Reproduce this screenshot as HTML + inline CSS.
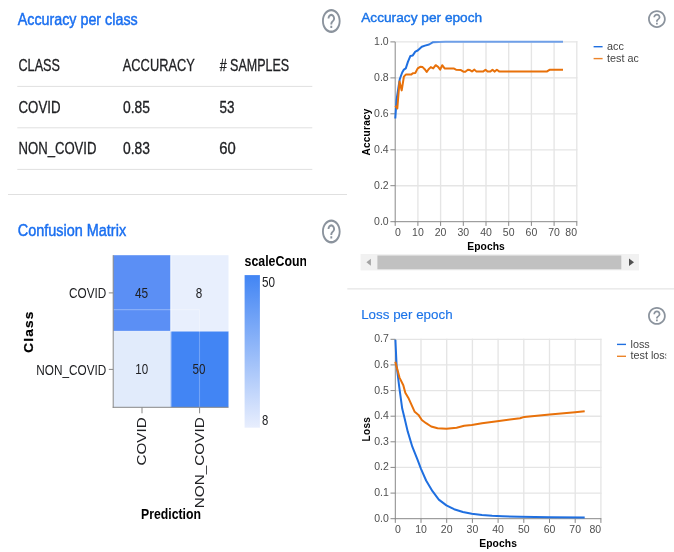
<!DOCTYPE html>
<html lang="en">
<head>
<meta charset="utf-8">
<title>Model evaluation</title>
<style>
html,body{margin:0;padding:0;background:#fff}
body{width:674px;height:552px;overflow:hidden;position:relative;font-family:"Liberation Sans", sans-serif}
svg{position:absolute;left:0;top:0;display:block;will-change:transform}
text{font-family:"Liberation Sans", sans-serif}
</style>
</head>
<body>
<svg width="674" height="552" viewBox="0 0 674 552">
<g id="accuracy-per-class">
<text x="17.7" y="25.3" font-size="16" fill="#1a6ff0" textLength="120" lengthAdjust="spacingAndGlyphs" stroke="#1a6ff0" stroke-width="0.45">Accuracy per class</text>
<path d="M11 18h2v-2h-2v2zm1-16C6.48 2 2 6.48 2 12s4.48 10 10 10 10-4.48 10-10S17.52 2 12 2zm0 18c-4.41 0-8-3.59-8-8s3.59-8 8-8 8 3.59 8 8-3.59 8-8 8zm0-14c-2.21 0-4 1.79-4 4h2c0-1.1.9-2 2-2s2 .9 2 2c0 2-3 1.75-3 5h2c0-2.25 3-2.5 3-5 0-2.21-1.79-4-4-4z" fill="#8b939d" transform="translate(320.14 6.50) scale(0.93 1.2)"/>
<text x="18.5" y="71" font-size="16.5" fill="#202124" textLength="41.4" lengthAdjust="spacingAndGlyphs" stroke="#202124" stroke-width="0.3">CLASS</text>
<text x="122.8" y="71" font-size="16.5" fill="#202124" textLength="72" lengthAdjust="spacingAndGlyphs" stroke="#202124" stroke-width="0.3">ACCURACY</text>
<text x="219.7" y="71" font-size="16.5" fill="#202124" textLength="69.5" lengthAdjust="spacingAndGlyphs" stroke="#202124" stroke-width="0.3"># SAMPLES</text>
<line x1="17.3" y1="86.4" x2="312.3" y2="86.4" stroke="#e0e0e0" stroke-width="1"/>
<text x="18.5" y="113" font-size="16.5" fill="#202124" textLength="42" lengthAdjust="spacingAndGlyphs" stroke="#202124" stroke-width="0.3">COVID</text>
<text x="123" y="113" font-size="15.6" fill="#202124" textLength="27" lengthAdjust="spacingAndGlyphs" stroke="#202124" stroke-width="0.3">0.85</text>
<text x="219.5" y="113" font-size="15.6" fill="#202124" textLength="15" lengthAdjust="spacingAndGlyphs" stroke="#202124" stroke-width="0.3">53</text>
<line x1="17.3" y1="127.8" x2="312.3" y2="127.8" stroke="#e0e0e0" stroke-width="1"/>
<text x="18.5" y="154.2" font-size="16.5" fill="#202124" textLength="78" lengthAdjust="spacingAndGlyphs" stroke="#202124" stroke-width="0.3">NON_COVID</text>
<text x="123" y="154.2" font-size="15.6" fill="#202124" textLength="27" lengthAdjust="spacingAndGlyphs" stroke="#202124" stroke-width="0.3">0.83</text>
<text x="219.3" y="154.2" font-size="15.6" fill="#202124" textLength="16.5" lengthAdjust="spacingAndGlyphs" stroke="#202124" stroke-width="0.3">60</text>
<line x1="17.3" y1="169.4" x2="312.3" y2="169.4" stroke="#e0e0e0" stroke-width="1"/>
</g>
<line x1="8" y1="194.5" x2="347" y2="194.5" stroke="#e0e0e0" stroke-width="1"/>
<g id="confusion-matrix">
<text x="17.8" y="235.6" font-size="16" fill="#1a6ff0" textLength="108.3" lengthAdjust="spacingAndGlyphs" stroke="#1a6ff0" stroke-width="0.45">Confusion Matrix</text>
<path d="M11 18h2v-2h-2v2zm1-16C6.48 2 2 6.48 2 12s4.48 10 10 10 10-4.48 10-10S17.52 2 12 2zm0 18c-4.41 0-8-3.59-8-8s3.59-8 8-8 8 3.59 8 8-3.59 8-8 8zm0-14c-2.21 0-4 1.79-4 4h2c0-1.1.9-2 2-2s2 .9 2 2c0 2-3 1.75-3 5h2c0-2.25 3-2.5 3-5 0-2.21-1.79-4-4-4z" fill="#8b939d" transform="translate(320.14 217.00) scale(0.93 1.2)"/>
<rect x="113.2" y="255.2" width="57.4" height="76.1" fill="#5b8ff5"/>
<rect x="170.6" y="255.2" width="57.9" height="76.1" fill="#e8effd"/>
<rect x="113.2" y="331.3" width="57.4" height="76.0" fill="#e1ebfb"/>
<rect x="170.6" y="331.3" width="57.9" height="76.0" fill="#4285f4"/>
<line x1="113.2" y1="309.7" x2="199.5" y2="309.7" stroke="rgba(255,255,255,0.28)" stroke-width="1.3"/>
<line x1="199.5" y1="309.7" x2="199.5" y2="407.3" stroke="rgba(255,255,255,0.25)" stroke-width="1.1"/>
<line x1="171.0" y1="255.2" x2="171.0" y2="407.3" stroke="rgba(255,255,255,0.55)" stroke-width="0.9"/>
<line x1="113.2" y1="331.2" x2="228.5" y2="331.2" stroke="rgba(255,255,255,0.45)" stroke-width="0.8"/>
<line x1="113.2" y1="255.2" x2="113.2" y2="407.8" stroke="#888888" stroke-width="1"/>
<line x1="112.7" y1="407.3" x2="228.5" y2="407.3" stroke="#888888" stroke-width="1"/>
<line x1="108.8" y1="292.9" x2="113.2" y2="292.9" stroke="#888888" stroke-width="1"/>
<line x1="108.8" y1="369.4" x2="113.2" y2="369.4" stroke="#888888" stroke-width="1"/>
<line x1="142" y1="407.3" x2="142" y2="413.3" stroke="#888888" stroke-width="1"/>
<line x1="199.6" y1="407.3" x2="199.6" y2="413.3" stroke="#888888" stroke-width="1"/>
<text x="106.3" y="298.3" font-size="15" fill="#202124" text-anchor="end" textLength="37.3" lengthAdjust="spacingAndGlyphs">COVID</text>
<text x="106.3" y="375.0" font-size="15" fill="#202124" text-anchor="end" textLength="70.0" lengthAdjust="spacingAndGlyphs">NON_COVID</text>
<text x="141.6" y="297.8" font-size="15" fill="#202124" text-anchor="middle" textLength="13.2" lengthAdjust="spacingAndGlyphs">45</text>
<text x="199.1" y="297.8" font-size="15" fill="#202124" text-anchor="middle" textLength="6.5" lengthAdjust="spacingAndGlyphs">8</text>
<text x="141.8" y="374.3" font-size="15" fill="#202124" text-anchor="middle" textLength="12.9" lengthAdjust="spacingAndGlyphs">10</text>
<text x="199.0" y="374.3" font-size="15" fill="#202124" text-anchor="middle" textLength="12.9" lengthAdjust="spacingAndGlyphs">50</text>
<g transform="translate(145.8 417.3) scale(0.79 1) rotate(-90)"><text x="0" y="0" font-size="15" fill="#202124" text-anchor="end" textLength="48.2" lengthAdjust="spacingAndGlyphs">COVID</text></g>
<g transform="translate(203.7 417.3) scale(0.79 1) rotate(-90)"><text x="0" y="0" font-size="15" fill="#202124" text-anchor="end" textLength="91" lengthAdjust="spacingAndGlyphs">NON_COVID</text></g>
<g transform="translate(33.4 332.2) scale(0.9 1) rotate(-90)"><text x="0" y="0" font-size="13.6" stroke="#000" stroke-width="0.25" fill="#000" font-weight="bold" text-anchor="middle" textLength="41" lengthAdjust="spacing">Class</text></g>
<text x="171.0" y="518.5" font-size="14.6" fill="#000" font-weight="bold" text-anchor="middle" textLength="60" lengthAdjust="spacingAndGlyphs">Prediction</text>
<defs><linearGradient id="lg" x1="0" y1="0" x2="0" y2="1"><stop offset="0" stop-color="#4285f4"/><stop offset="1" stop-color="#e8eefd"/></linearGradient><clipPath id="clipL"><rect x="240" y="250" width="66" height="20"/></clipPath></defs>
<g clip-path="url(#clipL)">
<text x="244.6" y="266.4" font-size="14.3" fill="#000" font-weight="bold" textLength="66.5" lengthAdjust="spacingAndGlyphs">scaleCount</text>
</g>
<rect x="244.6" y="275.1" width="15.3" height="152.6" fill="url(#lg)"/>
<text x="262" y="287.1" font-size="15" fill="#202124" textLength="13" lengthAdjust="spacingAndGlyphs">50</text>
<text x="262" y="424.8" font-size="15" fill="#202124" textLength="6.3" lengthAdjust="spacingAndGlyphs">8</text>
</g>
<defs><linearGradient id="bg" gradientUnits="userSpaceOnUse" x1="426" y1="0" x2="440" y2="0"><stop offset="0" stop-color="#1f6fe0"/><stop offset="1" stop-color="#6e9fe8"/></linearGradient></defs>
<g id="accuracy-per-epoch">
<text x="361.2" y="22" font-size="12.8" fill="#1a73e8" textLength="121" lengthAdjust="spacingAndGlyphs" stroke="#1a73e8" stroke-width="0.4">Accuracy per epoch</text>
<path d="M11 18h2v-2h-2v2zm1-16C6.48 2 2 6.48 2 12s4.48 10 10 10 10-4.48 10-10S17.52 2 12 2zm0 18c-4.41 0-8-3.59-8-8s3.59-8 8-8 8 3.59 8 8-3.59 8-8 8zm0-14c-2.21 0-4 1.79-4 4h2c0-1.1.9-2 2-2s2 .9 2 2c0 2-3 1.75-3 5h2c0-2.25 3-2.5 3-5 0-2.21-1.79-4-4-4z" fill="#8b939d" transform="translate(646.28 8.48) scale(0.885 0.885)"/>
<line x1="417.9" y1="41.3" x2="417.9" y2="221.7" stroke="#e5e5e5" stroke-width="1.35"/>
<line x1="440.6" y1="41.3" x2="440.6" y2="221.7" stroke="#e5e5e5" stroke-width="1.35"/>
<line x1="463.3" y1="41.3" x2="463.3" y2="221.7" stroke="#e5e5e5" stroke-width="1.35"/>
<line x1="486.0" y1="41.3" x2="486.0" y2="221.7" stroke="#e5e5e5" stroke-width="1.35"/>
<line x1="508.7" y1="41.3" x2="508.7" y2="221.7" stroke="#e5e5e5" stroke-width="1.35"/>
<line x1="531.4" y1="41.3" x2="531.4" y2="221.7" stroke="#e5e5e5" stroke-width="1.35"/>
<line x1="554.1" y1="41.3" x2="554.1" y2="221.7" stroke="#e5e5e5" stroke-width="1.35"/>
<line x1="576.8" y1="41.3" x2="576.8" y2="221.7" stroke="#e5e5e5" stroke-width="1.35"/>
<line x1="395.2" y1="185.7" x2="577.4" y2="185.7" stroke="#e5e5e5" stroke-width="1.35"/>
<line x1="395.2" y1="149.8" x2="577.4" y2="149.8" stroke="#e5e5e5" stroke-width="1.35"/>
<line x1="395.2" y1="113.8" x2="577.4" y2="113.8" stroke="#e5e5e5" stroke-width="1.35"/>
<line x1="395.2" y1="77.9" x2="577.4" y2="77.9" stroke="#e5e5e5" stroke-width="1.35"/>
<line x1="395.2" y1="41.9" x2="577.4" y2="41.9" stroke="#e5e5e5" stroke-width="1.35"/>
<line x1="395.2" y1="41.9" x2="395.2" y2="222.2" stroke="#888888" stroke-width="1"/>
<line x1="394.7" y1="221.7" x2="577.3" y2="221.7" stroke="#888888" stroke-width="1"/>
<line x1="395.2" y1="221.7" x2="395.2" y2="225.89999999999998" stroke="#888888" stroke-width="1"/>
<text x="394.9" y="236.0" font-size="10.5" fill="#4f4f4f">0</text>
<line x1="417.9" y1="221.7" x2="417.9" y2="225.89999999999998" stroke="#888888" stroke-width="1"/>
<text x="417.9" y="236.0" font-size="10.5" fill="#4f4f4f" text-anchor="middle">10</text>
<line x1="440.6" y1="221.7" x2="440.6" y2="225.89999999999998" stroke="#888888" stroke-width="1"/>
<text x="440.6" y="236.0" font-size="10.5" fill="#4f4f4f" text-anchor="middle">20</text>
<line x1="463.3" y1="221.7" x2="463.3" y2="225.89999999999998" stroke="#888888" stroke-width="1"/>
<text x="463.3" y="236.0" font-size="10.5" fill="#4f4f4f" text-anchor="middle">30</text>
<line x1="486.0" y1="221.7" x2="486.0" y2="225.89999999999998" stroke="#888888" stroke-width="1"/>
<text x="486.0" y="236.0" font-size="10.5" fill="#4f4f4f" text-anchor="middle">40</text>
<line x1="508.7" y1="221.7" x2="508.7" y2="225.89999999999998" stroke="#888888" stroke-width="1"/>
<text x="508.7" y="236.0" font-size="10.5" fill="#4f4f4f" text-anchor="middle">50</text>
<line x1="531.4" y1="221.7" x2="531.4" y2="225.89999999999998" stroke="#888888" stroke-width="1"/>
<text x="531.4" y="236.0" font-size="10.5" fill="#4f4f4f" text-anchor="middle">60</text>
<line x1="554.1" y1="221.7" x2="554.1" y2="225.89999999999998" stroke="#888888" stroke-width="1"/>
<text x="554.1" y="236.0" font-size="10.5" fill="#4f4f4f" text-anchor="middle">70</text>
<line x1="576.8" y1="221.7" x2="576.8" y2="225.89999999999998" stroke="#888888" stroke-width="1"/>
<text x="577.0" y="236.0" font-size="10.5" fill="#4f4f4f" text-anchor="end">80</text>
<line x1="390.4" y1="221.7" x2="395.2" y2="221.7" stroke="#888888" stroke-width="1"/>
<text x="388.7" y="224.7" font-size="10.5" fill="#4f4f4f" text-anchor="end">0.0</text>
<line x1="390.4" y1="185.7" x2="395.2" y2="185.7" stroke="#888888" stroke-width="1"/>
<text x="388.7" y="188.7" font-size="10.5" fill="#4f4f4f" text-anchor="end">0.2</text>
<line x1="390.4" y1="149.8" x2="395.2" y2="149.8" stroke="#888888" stroke-width="1"/>
<text x="388.7" y="152.8" font-size="10.5" fill="#4f4f4f" text-anchor="end">0.4</text>
<line x1="390.4" y1="113.8" x2="395.2" y2="113.8" stroke="#888888" stroke-width="1"/>
<text x="388.7" y="116.8" font-size="10.5" fill="#4f4f4f" text-anchor="end">0.6</text>
<line x1="390.4" y1="77.9" x2="395.2" y2="77.9" stroke="#888888" stroke-width="1"/>
<text x="388.7" y="80.9" font-size="10.5" fill="#4f4f4f" text-anchor="end">0.8</text>
<line x1="390.4" y1="41.9" x2="395.2" y2="41.9" stroke="#888888" stroke-width="1"/>
<text x="388.7" y="44.9" font-size="10.5" fill="#4f4f4f" text-anchor="end">1.0</text>
<polyline points="395.3,118.5 396.5,100.2 398.2,88.8 399.8,79.0 402.2,72.5 403.9,69.6 405.8,68.4 407.9,61.9 410.4,55.9 412.8,55.4 415.3,51.6 417.7,50.5 421.8,46.7 425.0,45.6 429.1,44.5 432.7,42.3 438.9,41.9 445.4,41.8 563.0,41.8" fill="none" stroke="url(#bg)" stroke-width="2.0" stroke-linejoin="round" stroke-linecap="butt"/>
<polyline points="395.3,105.9 397.3,108.4 399.5,81.5 401.7,90.4 403.9,76.6 405.8,74.6 411.2,74.6 412.8,73.3 415.3,73.0 417.7,68.4 420.2,66.8 422.6,67.1 424.7,69.2 426.7,72.0 428.6,69.2 430.8,67.1 433.2,68.4 435.7,65.2 438.1,66.8 440.2,69.7 442.2,65.2 444.6,68.4 453.6,68.4 456.0,69.7 460.9,70.1 463.4,71.7 465.3,71.7 467.9,69.7 469.9,70.1 472.0,71.5 474.4,69.6 476.5,71.6 483.0,71.6 485.5,69.8 487.6,71.6 490.4,71.6 492.5,69.8 494.5,71.6 496.9,69.8 499.4,71.6 546.7,71.6 549.5,69.8 563.0,69.8" fill="none" stroke="#e8710a" stroke-width="2.0" stroke-linejoin="round" stroke-linecap="butt"/>
<text x="486.0" y="249.7" font-size="10.3" fill="#000" font-weight="bold" text-anchor="middle" textLength="37.6" lengthAdjust="spacing">Epochs</text>
<text x="370.1" y="132.1" font-size="10" fill="#000" font-weight="bold" text-anchor="middle" transform="rotate(-90 370.1 132.1)" textLength="47" lengthAdjust="spacing">Accuracy</text>
<line x1="593.6" y1="46.699999999999996" x2="602.6" y2="46.699999999999996" stroke="#1f6fe0" stroke-width="1.4"/>
<line x1="593.6" y1="58.599999999999994" x2="602.6" y2="58.599999999999994" stroke="#ec842a" stroke-width="1.4"/>
<defs><clipPath id="c_accuracy-per-epoch"><rect x="593.6" y="34.4" width="45.0" height="40"/></clipPath></defs>
<g clip-path="url(#c_accuracy-per-epoch)">
<text x="607.1" y="50.0" font-size="10.8" fill="#444">acc</text>
<text x="607.1" y="61.599999999999994" font-size="10.8" fill="#444">test acc</text>
</g>
</g>
<g id="scrollbar">
<rect x="360.6" y="254.0" width="278.4" height="16.4" fill="#f1f1f1"/>
<rect x="377.4" y="255.5" width="243.9" height="13.8" fill="#c1c1c1"/>
<path d="M366.4 262.3 L370.9 258.8 L370.9 265.8 Z" fill="#a3a3a3"/>
<path d="M634 262.3 L629 258.5 L629 266.1 Z" fill="#505050"/>
</g>
<line x1="347.3" y1="288.8" x2="674" y2="288.8" stroke="#e5e5e5" stroke-width="1.3"/>
<g id="loss-per-epoch">
<text x="361.2" y="319.2" font-size="12.8" fill="#1a73e8" textLength="91.4" lengthAdjust="spacingAndGlyphs" stroke="#1a73e8" stroke-width="0.12">Loss per epoch</text>
<path d="M11 18h2v-2h-2v2zm1-16C6.48 2 2 6.48 2 12s4.48 10 10 10 10-4.48 10-10S17.52 2 12 2zm0 18c-4.41 0-8-3.59-8-8s3.59-8 8-8 8 3.59 8 8-3.59 8-8 8zm0-14c-2.21 0-4 1.79-4 4h2c0-1.1.9-2 2-2s2 .9 2 2c0 2-3 1.75-3 5h2c0-2.25 3-2.5 3-5 0-2.21-1.79-4-4-4z" fill="#8b939d" transform="translate(646.28 305.28) scale(0.885 0.885)"/>
<line x1="421.0" y1="338.7" x2="421.0" y2="518.7" stroke="#e5e5e5" stroke-width="1.35"/>
<line x1="446.7" y1="338.7" x2="446.7" y2="518.7" stroke="#e5e5e5" stroke-width="1.35"/>
<line x1="472.4" y1="338.7" x2="472.4" y2="518.7" stroke="#e5e5e5" stroke-width="1.35"/>
<line x1="498.1" y1="338.7" x2="498.1" y2="518.7" stroke="#e5e5e5" stroke-width="1.35"/>
<line x1="523.8" y1="338.7" x2="523.8" y2="518.7" stroke="#e5e5e5" stroke-width="1.35"/>
<line x1="549.5" y1="338.7" x2="549.5" y2="518.7" stroke="#e5e5e5" stroke-width="1.35"/>
<line x1="575.2" y1="338.7" x2="575.2" y2="518.7" stroke="#e5e5e5" stroke-width="1.35"/>
<line x1="600.9" y1="338.7" x2="600.9" y2="518.7" stroke="#e5e5e5" stroke-width="1.35"/>
<line x1="395.3" y1="493.1" x2="601.5" y2="493.1" stroke="#e5e5e5" stroke-width="1.35"/>
<line x1="395.3" y1="467.4" x2="601.5" y2="467.4" stroke="#e5e5e5" stroke-width="1.35"/>
<line x1="395.3" y1="441.8" x2="601.5" y2="441.8" stroke="#e5e5e5" stroke-width="1.35"/>
<line x1="395.3" y1="416.2" x2="601.5" y2="416.2" stroke="#e5e5e5" stroke-width="1.35"/>
<line x1="395.3" y1="390.6" x2="601.5" y2="390.6" stroke="#e5e5e5" stroke-width="1.35"/>
<line x1="395.3" y1="364.9" x2="601.5" y2="364.9" stroke="#e5e5e5" stroke-width="1.35"/>
<line x1="395.3" y1="339.3" x2="601.5" y2="339.3" stroke="#e5e5e5" stroke-width="1.35"/>
<line x1="395.3" y1="339.3" x2="395.3" y2="519.2" stroke="#888888" stroke-width="1"/>
<line x1="394.8" y1="518.7" x2="601.4" y2="518.7" stroke="#888888" stroke-width="1"/>
<line x1="395.3" y1="518.7" x2="395.3" y2="522.9000000000001" stroke="#888888" stroke-width="1"/>
<text x="395.0" y="533.0" font-size="10.5" fill="#4f4f4f">0</text>
<line x1="421.0" y1="518.7" x2="421.0" y2="522.9000000000001" stroke="#888888" stroke-width="1"/>
<text x="421.0" y="533.0" font-size="10.5" fill="#4f4f4f" text-anchor="middle">10</text>
<line x1="446.7" y1="518.7" x2="446.7" y2="522.9000000000001" stroke="#888888" stroke-width="1"/>
<text x="446.7" y="533.0" font-size="10.5" fill="#4f4f4f" text-anchor="middle">20</text>
<line x1="472.4" y1="518.7" x2="472.4" y2="522.9000000000001" stroke="#888888" stroke-width="1"/>
<text x="472.4" y="533.0" font-size="10.5" fill="#4f4f4f" text-anchor="middle">30</text>
<line x1="498.1" y1="518.7" x2="498.1" y2="522.9000000000001" stroke="#888888" stroke-width="1"/>
<text x="498.1" y="533.0" font-size="10.5" fill="#4f4f4f" text-anchor="middle">40</text>
<line x1="523.8" y1="518.7" x2="523.8" y2="522.9000000000001" stroke="#888888" stroke-width="1"/>
<text x="523.8" y="533.0" font-size="10.5" fill="#4f4f4f" text-anchor="middle">50</text>
<line x1="549.5" y1="518.7" x2="549.5" y2="522.9000000000001" stroke="#888888" stroke-width="1"/>
<text x="549.5" y="533.0" font-size="10.5" fill="#4f4f4f" text-anchor="middle">60</text>
<line x1="575.2" y1="518.7" x2="575.2" y2="522.9000000000001" stroke="#888888" stroke-width="1"/>
<text x="575.2" y="533.0" font-size="10.5" fill="#4f4f4f" text-anchor="middle">70</text>
<line x1="600.9" y1="518.7" x2="600.9" y2="522.9000000000001" stroke="#888888" stroke-width="1"/>
<text x="601.1" y="533.0" font-size="10.5" fill="#4f4f4f" text-anchor="end">80</text>
<line x1="390.5" y1="518.7" x2="395.3" y2="518.7" stroke="#888888" stroke-width="1"/>
<text x="388.8" y="521.7" font-size="10.5" fill="#4f4f4f" text-anchor="end">0.0</text>
<line x1="390.5" y1="493.1" x2="395.3" y2="493.1" stroke="#888888" stroke-width="1"/>
<text x="388.8" y="496.1" font-size="10.5" fill="#4f4f4f" text-anchor="end">0.1</text>
<line x1="390.5" y1="467.4" x2="395.3" y2="467.4" stroke="#888888" stroke-width="1"/>
<text x="388.8" y="470.4" font-size="10.5" fill="#4f4f4f" text-anchor="end">0.2</text>
<line x1="390.5" y1="441.8" x2="395.3" y2="441.8" stroke="#888888" stroke-width="1"/>
<text x="388.8" y="444.8" font-size="10.5" fill="#4f4f4f" text-anchor="end">0.3</text>
<line x1="390.5" y1="416.2" x2="395.3" y2="416.2" stroke="#888888" stroke-width="1"/>
<text x="388.8" y="419.2" font-size="10.5" fill="#4f4f4f" text-anchor="end">0.4</text>
<line x1="390.5" y1="390.6" x2="395.3" y2="390.6" stroke="#888888" stroke-width="1"/>
<text x="388.8" y="393.6" font-size="10.5" fill="#4f4f4f" text-anchor="end">0.5</text>
<line x1="390.5" y1="364.9" x2="395.3" y2="364.9" stroke="#888888" stroke-width="1"/>
<text x="388.8" y="367.9" font-size="10.5" fill="#4f4f4f" text-anchor="end">0.6</text>
<line x1="390.5" y1="339.3" x2="395.3" y2="339.3" stroke="#888888" stroke-width="1"/>
<text x="388.8" y="342.3" font-size="10.5" fill="#4f4f4f" text-anchor="end">0.7</text>
<polyline points="395.4,339.8 396.6,365.5 399.1,385.8 402.2,408.6 404.7,418.8 407.7,431.4 412.3,446.7 417.4,459.4 421.1,469.1 426.1,480.5 432.5,491.2 438.8,499.6 446.4,505.4 454.1,509.2 462.9,512.0 471.8,513.8 482.0,515.0 492.1,515.8 502.3,516.3 520.0,516.8 550.0,517.3 584.7,517.6" fill="none" stroke="#1f6fe0" stroke-width="2.0" stroke-linejoin="round" stroke-linecap="butt"/>
<polyline points="395.3,361.8 399.5,377.6 403.3,385.2 405.3,392.8 408.4,397.9 414.7,411.8 418.5,414.9 421.8,420.0 426.1,423.2 431.2,426.5 437.6,428.3 446.4,428.8 456.6,427.8 464.2,425.8 471.8,425.0 482.0,423.2 497.2,421.2 520.0,418.2 524.3,416.9 549.7,414.4 575.1,412.3 584.7,411.3" fill="none" stroke="#e8710a" stroke-width="2.0" stroke-linejoin="round" stroke-linecap="butt"/>
<text x="498.1" y="546.7" font-size="10.3" fill="#000" font-weight="bold" text-anchor="middle" textLength="37.6" lengthAdjust="spacing">Epochs</text>
<text x="370.1" y="429.3" font-size="10" fill="#000" font-weight="bold" text-anchor="middle" transform="rotate(-90 370.1 429.3)" textLength="24.2" lengthAdjust="spacing">Loss</text>
<line x1="617" y1="344.40000000000003" x2="626" y2="344.40000000000003" stroke="#1f6fe0" stroke-width="1.4"/>
<line x1="617" y1="356.3" x2="626" y2="356.3" stroke="#ec842a" stroke-width="1.4"/>
<defs><clipPath id="c_loss-per-epoch"><rect x="617" y="332.1" width="49.200000000000045" height="40"/></clipPath></defs>
<g clip-path="url(#c_loss-per-epoch)">
<text x="630.5" y="347.70000000000005" font-size="10.8" fill="#444">loss</text>
<text x="630.5" y="359.3" font-size="10.8" fill="#444">test loss</text>
</g>
</g>
</svg>
</body>
</html>
